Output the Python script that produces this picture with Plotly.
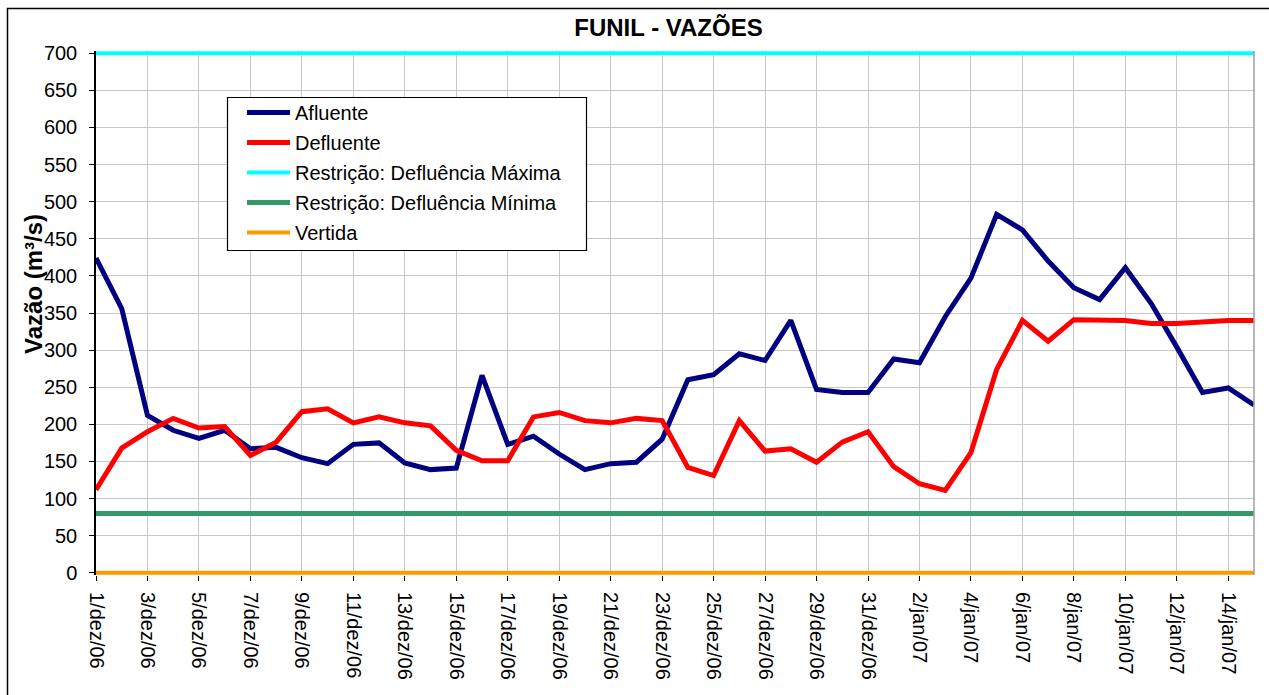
import plotly.graph_objects as go

# ---- data ----
dias = [f"{d}/dez/06" for d in range(1, 32)] + [f"{d}/jan/07" for d in range(1, 16)]

afluente = [424, 356, 212, 192, 181, 192, 167, 169, 155, 147, 173, 175, 148, 139, 141, 266,
            173, 184, 160, 139, 147, 149, 180, 260, 267, 295, 286, 340, 247, 243, 243,
            288, 283, 345, 397, 483, 462, 420, 384, 368, 411, 363, 304, 243, 249, 226]

defluente = [112, 168, 190, 208, 195, 197, 158, 176, 217, 221, 202, 210, 202, 198, 165, 151,
             151, 210, 216, 205, 202, 208, 205, 142, 131, 205, 164, 167, 149, 176, 190,
             143, 120, 111, 162, 274, 340, 312, 341, 340, 340, 336, 336, 338, 340, 340]

restricao_max = [700] * len(dias)
restricao_min = [80] * len(dias)
vertida = [0] * len(dias)

tick_labels = dias[::2]

FONT = "Liberation Sans, Arial, sans-serif"

fig = go.Figure()
series = [
    ("Afluente", afluente, "#000080", 5),
    ("Defluente", defluente, "#ff0000", 5),
    ("Restrição: Defluência Máxima", restricao_max, "#00ffff", 4),
    ("Restrição: Defluência Mínima", restricao_min, "#339966", 5),
    ("Vertida", vertida, "#ff9900", 4),
]
for i, (name, vals, color, w) in enumerate(series):
    fig.add_trace(go.Scatter(x=dias, y=vals, name=name, mode="lines", legendgroup=f"g{i}",
                             line=dict(color=color, width=w)))

W, H = 1269, 695
L, R, T, B = 96, 1254, 51, 575
pw, ph = R - L, B - T

def px_x(x):
    return (x - L) / pw

def px_y(y):
    return (B - y) / ph

fig.update_layout(
    width=W, height=H, autosize=False,
    margin=dict(l=L, r=W - R, t=T, b=H - B, pad=0),
    paper_bgcolor="white", plot_bgcolor="white",
    font=dict(family=FONT, size=20, color="black"),
    title=dict(text="<b>FUNIL - VAZÕES</b>", x=668.5 / W, xanchor="center",
               y=1 - 28 / H, yanchor="middle", font=dict(size=24, family=FONT, color="black")),
    showlegend=True,
    legend=dict(x=px_x(242), y=px_y(93), xanchor="left", yanchor="top",
                bgcolor="rgba(0,0,0,0)", borderwidth=0,
                font=dict(size=20, family=FONT, color="black"),
                itemwidth=43, traceorder="grouped", tracegroupgap=1),
)

fig.update_xaxes(
    type="category", range=[0, len(dias) - 1],
    tickmode="array", tickvals=tick_labels, ticktext=tick_labels,
    tickangle=90, ticks="outside", ticklen=5, tickcolor="black",
    ticklabelstandoff=7,
    showgrid=True, gridcolor="#c8c8c8", gridwidth=1,
    showline=False, zeroline=False,
    tickfont=dict(size=20, family=FONT, color="black"),
)
fig.update_yaxes(
    range=[-3, 703], tickmode="array", tickvals=list(range(0, 701, 50)),
    ticks="outside", ticklen=5, tickcolor="black",
    ticklabelstandoff=8,
    showgrid=True, gridcolor="#c8c8c8", gridwidth=1,
    showline=True, linecolor="black", linewidth=1.5, zeroline=False,
    tickfont=dict(size=20, family=FONT, color="black"),
)

# y axis title
fig.add_annotation(text="<b>Vazão (m³/s)</b>", textangle=-90, xref="paper", yref="paper",
                   x=px_x(33), y=px_y(284), showarrow=False, xanchor="center", yanchor="middle",
                   font=dict(size=24, family=FONT, color="black"))

# legend frame
fig.add_shape(type="rect", xref="paper", yref="paper",
              x0=px_x(227.5), x1=px_x(586.5), y0=px_y(250.5), y1=px_y(97.5),
              line=dict(color="black", width=1.2), fillcolor="white", layer="above")
# plot area right border (gray)
fig.add_shape(type="line", xref="paper", yref="paper", x0=1, x1=1, y0=0, y1=1,
              line=dict(color="#a0a0a0", width=1.5))
# outer chart border
fig.add_shape(type="rect", xref="paper", yref="paper",
              x0=px_x(7.5), x1=px_x(1300), y0=px_y(720), y1=px_y(8.5),
              line=dict(color="black", width=1.5), fillcolor="rgba(0,0,0,0)", layer="above")

fig.write_html("out.html", config={"displayModeBar": False},
               post_script="document.body.style.margin='0';document.body.style.overflow='hidden';")
